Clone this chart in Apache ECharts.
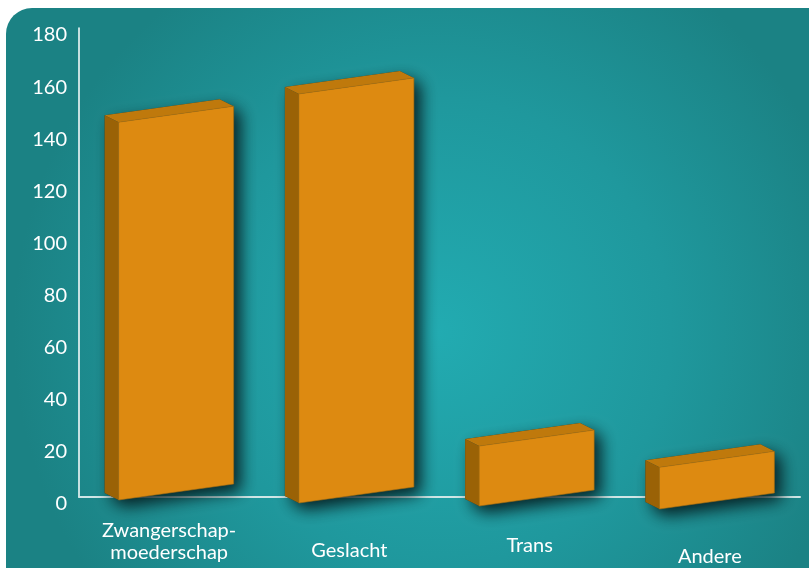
<!DOCTYPE html>
<html>
<head>
<meta charset="utf-8">
<script src="https://cdn.jsdelivr.net/npm/echarts@6/dist/echarts.min.js"></script>
<style>
  html, body { margin: 0; padding: 0; background: #ffffff; }
  #chart { width: 809px; height: 568px; }
</style>
</head>
<body>
<div id="chart"></div>
<script>
// Meldingen per discriminatiegrond
const categories = ['Zwangerschap-\nmoederschap', 'Geslacht', 'Trans', 'Andere'];
const values = [145, 157, 23, 16];
const yTicks = [0, 20, 40, 60, 80, 100, 120, 140, 160, 180];

// extra drop of each category label below the axis (px)
const labelDrop = [0, 20, 15, 26];

const FONT = 'Lato';
const chart = echarts.init(document.getElementById('chart'), null, { renderer: 'canvas' });

// box geometry (pixels)
const FRONT_W = 115;       // width of the front face
const DEPTH_X = -14;       // side/top face depth vector
const DEPTH_Y = -7;
const TILT = 16;           // right edge sits this much higher than the left

function renderBox(params, api) {
  const idx = api.value(0);
  const val = api.value(1);
  const base = api.coord([idx, 0]);
  const topPt = api.coord([idx, val]);
  const h = base[1] - topPt[1];
  const cx = base[0];
  const xL = cx - FRONT_W / 2 + 7;
  const xR = xL + FRONT_W;
  // slight perspective: boxes further right sit a little lower
  const drop = 3 + (xL - 119) / 540 * 9;
  const bL = base[1] + drop;
  const bR = bL - TILT;
  const tL = bL - h;
  const tR = bR - h;

  const front = [[xL, tL], [xR, tR], [xR, bR], [xL, bL]];
  const side = [[xL + DEPTH_X, tL + DEPTH_Y], [xL, tL], [xL, bL], [xL + DEPTH_X, bL + DEPTH_Y]];
  const top = [[xL + DEPTH_X, tL + DEPTH_Y], [xR + DEPTH_X, tR + DEPTH_Y], [xR, tR], [xL, tL]];
  const outline = [[xL + DEPTH_X, tL + DEPTH_Y], [xR + DEPTH_X, tR + DEPTH_Y], [xR, tR], [xR, bR], [xL, bL], [xL + DEPTH_X, bL + DEPTH_Y]];

  return {
    type: 'group',
    children: [
      {
        type: 'polygon',
        shape: { points: outline },
        style: {
          fill: '#0d3a3e',
          shadowBlur: 16,
          shadowColor: 'rgba(4,28,32,0.95)',
          shadowOffsetX: 7,
          shadowOffsetY: 7
        }
      },
      { type: 'polygon', shape: { points: side }, style: { fill: '#9a6206' } },
      { type: 'polygon', shape: { points: top }, style: { fill: '#bf790c' } },
      {
        type: 'polygon',
        shape: { points: front },
        style: { fill: '#dd8a11', stroke: '#a96f10', lineWidth: 0.6 }
      }
    ]
  };
}

const option = {
  animation: false,
  backgroundColor: '#ffffff',
  graphic: [
    {
      type: 'rect',
      z: -10,
      silent: true,
      shape: { x: 6, y: 8, width: 830, height: 590, r: 26 },
      style: {
        fill: {
          type: 'radial',
          x: 0.52, y: 0.55, r: 0.72,
          colorStops: [
            { offset: 0, color: '#22abb1' },
            { offset: 0.55, color: '#1f989d' },
            { offset: 1, color: '#1b8284' }
          ]
        }
      }
    }
  ],
  grid: { left: 79, right: 9, top: 28, bottom: 70, containLabel: false },
  xAxis: {
    type: 'category',
    data: categories.map((c, i) => ({
      value: c,
      textStyle: { padding: [labelDrop[i], 0, 0, 0] }
    })),
    axisLine: { show: true, lineStyle: { color: '#cfe6e6', width: 2 } },
    axisTick: { show: false },
    axisLabel: {
      color: '#ffffff',
      fontFamily: FONT,
      fontSize: 20,
      lineHeight: 22,
      margin: 23,
      interval: 0
    },
    splitLine: { show: false }
  },
  yAxis: {
    type: 'value',
    min: 0,
    max: 180,
    interval: 20,
    axisLine: { show: true, lineStyle: { color: '#ffffff', width: 1.5 } },
    axisTick: { show: false },
    splitLine: { show: false },
    axisLabel: {
      color: '#ffffff',
      fontFamily: FONT,
      fontSize: 20,
      margin: 12,
      verticalAlign: 'top',
      lineHeight: 14,
      formatter: v => (yTicks.indexOf(v) >= 0 ? String(v) : '')
    }
  },
  series: [
    {
      type: 'custom',
      renderItem: renderBox,
      clip: false,
      data: values.map((v, i) => [i, v])
    }
  ]
};

chart.setOption(option);
</script>
</body>
</html>
